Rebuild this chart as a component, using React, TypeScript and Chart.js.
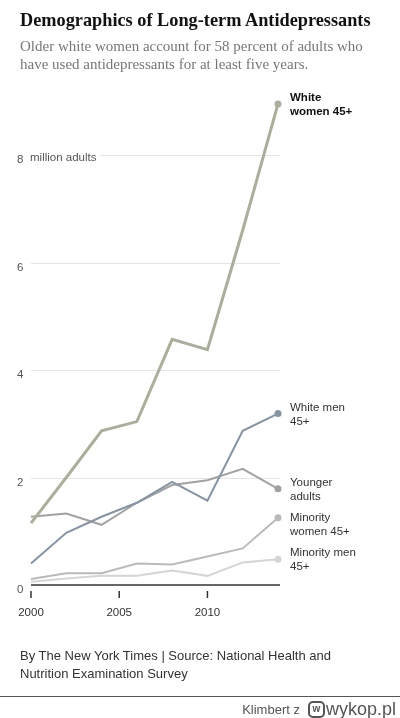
import React, { useEffect, useRef } from "react";
import { Chart, registerables } from "chart.js";

Chart.register(...registerables);

// ---------- data ----------
const years = [2000, 2002, 2004, 2006, 2008, 2010, 2012, 2014];
const whiteWomen = [1.15, 2.0, 2.87, 3.04, 4.57, 4.38, 6.6, 8.95];
const whiteMen = [0.4, 0.97, 1.27, 1.53, 1.92, 1.57, 2.87, 3.19];
const youngerAdults = [1.27, 1.33, 1.12, 1.53, 1.86, 1.95, 2.16, 1.79];
const minorityWomen = [0.11, 0.22, 0.22, 0.4, 0.38, 0.53, 0.68, 1.25];
const minorityMen = [0.06, 0.12, 0.17, 0.17, 0.27, 0.17, 0.42, 0.48];
const seriesLabels = [
  ["White", "women 45+"],
  ["White men", "45+"],
  ["Younger", "adults"],
  ["Minority", "women 45+"],
  ["Minority men", "45+"],
];
const yTicks = [0, 2, 4, 6, 8];
const xTicks = [2000, 2005, 2010];
const yUnitLabel = "million adults";

// ---------- style ----------
const seriesColors = ["#a9af9a", "#8594a3", "#a2a2a2", "#bababa", "#d5d5d5"];
const seriesWidths = [3, 2, 2, 2, 2];
const labelBold = [true, false, false, false, false];
const SANS = '"Liberation Sans", Arial, Helvetica, sans-serif';
const SERIF = '"Liberation Serif", "Times New Roman", serif';

const decorPlugin = {
  id: "decor",
  beforeDatasetsDraw(chart: any) {
    const { ctx, chartArea, scales } = chart;
    const x = scales.x;
    const y = scales.y;
    const left = chartArea.left;
    const right = chartArea.right + 2;
    ctx.save();
    ctx.font = `11.5px ${SANS}`;
    ctx.textBaseline = "middle";
    ctx.textAlign = "left";
    yTicks.forEach((v, i) => {
      const py = y.getPixelForValue(v);
      ctx.fillStyle = "#555";
      ctx.fillText(String(v), 17, py + 5);
      let startX = left;
      if (i === yTicks.length - 1) {
        ctx.fillText(yUnitLabel, 30, py + 3);
        startX = 30 + ctx.measureText(yUnitLabel).width + 4;
      }
      if (v === 0) return;
      ctx.strokeStyle = "#e4e4e4";
      ctx.lineWidth = 1;
      ctx.beginPath();
      ctx.moveTo(startX, Math.round(py) + 0.5);
      ctx.lineTo(right, Math.round(py) + 0.5);
      ctx.stroke();
    });
    const y0 = y.getPixelForValue(0);
    ctx.strokeStyle = "#333";
    ctx.lineWidth = 1.5;
    ctx.beginPath();
    ctx.moveTo(left, y0);
    ctx.lineTo(right, y0);
    ctx.stroke();
    ctx.textAlign = "center";
    ctx.fillStyle = "#333";
    xTicks.forEach((t) => {
      const px = x.getPixelForValue(t);
      ctx.beginPath();
      ctx.moveTo(px, y0 + 6);
      ctx.lineTo(px, y0 + 13);
      ctx.stroke();
      ctx.fillText(String(t), px, y0 + 28);
    });
    ctx.restore();
  },
  afterDatasetsDraw(chart: any) {
    const { ctx } = chart;
    const items = chart.data.datasets.map((ds: any, i: number) => {
      const meta = chart.getDatasetMeta(i);
      const pt = meta.data[meta.data.length - 1];
      return { i, x: pt.x, y: pt.y };
    });
    items.sort((a: any, b: any) => a.y - b.y);
    ctx.save();
    ctx.textBaseline = "middle";
    ctx.textAlign = "left";
    let prevLast = -Infinity;
    const lineH = 14;
    items.forEach((it: any) => {
      const lines = seriesLabels[it.i];
      let first = Math.max(it.y - 6, prevLast + 21);
      ctx.font = `${labelBold[it.i] ? "bold " : ""}11.5px ${SANS}`;
      ctx.fillStyle = labelBold[it.i] ? "#111" : "#333";
      lines.forEach((ln: string, k: number) => {
        ctx.fillText(ln, it.x + 12, first + k * lineH);
      });
      prevLast = first + (lines.length - 1) * lineH;
    });
    ctx.restore();
  },
};

export default function App() {
  const ref = useRef<HTMLCanvasElement | null>(null);
  useEffect(() => {
    if (!ref.current) return;
    const seriesValues = [whiteWomen, whiteMen, youngerAdults, minorityWomen, minorityMen];
    const last = years.length - 1;
    const chart = new Chart(ref.current, {
      type: "line",
      data: {
        datasets: seriesValues.map((vals, i) => ({
          label: seriesLabels[i].join(" "),
          data: years.map((yr, k) => ({ x: yr, y: vals[k] })),
          borderColor: seriesColors[i],
          backgroundColor: seriesColors[i],
          borderWidth: seriesWidths[i],
          pointRadius: (c: any) => (c.dataIndex === last ? 3.5 : 0),
          pointBorderWidth: 0,
          pointBackgroundColor: seriesColors[i],
          tension: 0,
          clip: false as any,
          borderJoinStyle: "miter" as any,
        })),
      },
      options: {
        responsive: false,
        animation: false,
        layout: { padding: { left: 31, right: 122, top: 101.25, bottom: 133 } },
        plugins: { legend: { display: false }, tooltip: { enabled: false } },
        scales: {
          x: { type: "linear", min: 2000, max: 2014, display: false },
          y: { min: 0, max: 9, display: false },
        },
      },
      plugins: [decorPlugin],
    });
    return () => chart.destroy();
  }, []);

  return (
    <div
      style={{
        position: "absolute",
        left: 0,
        top: 0,
        width: 400,
        height: 718,
        background: "#fff",
        overflow: "hidden",
      }}
    >
      <canvas
        ref={ref}
        width={400}
        height={718}
        style={{ position: "absolute", left: 0, top: 0, width: 400, height: 718 }}
      />
      <div
        style={{
          position: "absolute",
          left: 20,
          top: 9,
          fontFamily: SERIF,
          fontWeight: "bold",
          fontSize: 18.3,
          lineHeight: "22px",
          color: "#121212",
          whiteSpace: "nowrap",
        }}
      >
        Demographics of Long-term Antidepressants
      </div>
      <div
        style={{
          position: "absolute",
          left: 20,
          top: 38,
          width: 370,
          fontFamily: SERIF,
          fontSize: 15,
          lineHeight: "17.7px",
          color: "#777",
        }}
      >
        Older white women account for 58 percent of adults who
        <br />
        have used antidepressants for at least five years.
      </div>
      <div
        style={{
          position: "absolute",
          left: 20,
          top: 647,
          width: 370,
          fontFamily: SANS,
          fontSize: 13,
          lineHeight: "18px",
          color: "#333",
        }}
      >
        By The New York Times | Source: National Health and
        <br />
        Nutrition Examination Survey
      </div>
      <div
        style={{
          position: "absolute",
          left: 0,
          top: 696,
          width: 400,
          height: 1,
          background: "#555",
        }}
      />
      <div
        style={{
          position: "absolute",
          right: 4,
          top: 699,
          height: 20,
          display: "flex",
          alignItems: "center",
          fontFamily: SANS,
          color: "#555",
          whiteSpace: "nowrap",
        }}
      >
        <span style={{ fontSize: 13, marginRight: 8 }}>Klimbert z</span>
        <span
          style={{
            display: "inline-flex",
            alignItems: "center",
            justifyContent: "center",
            width: 13,
            height: 13,
            border: "2px solid #555",
            borderRadius: 5,
            fontSize: 10,
            fontWeight: "bold",
            lineHeight: "10px",
            marginRight: 1,
          }}
        >
          w
        </span>
        <span style={{ fontSize: 18 }}>wykop.pl</span>
      </div>
    </div>
  );
}
